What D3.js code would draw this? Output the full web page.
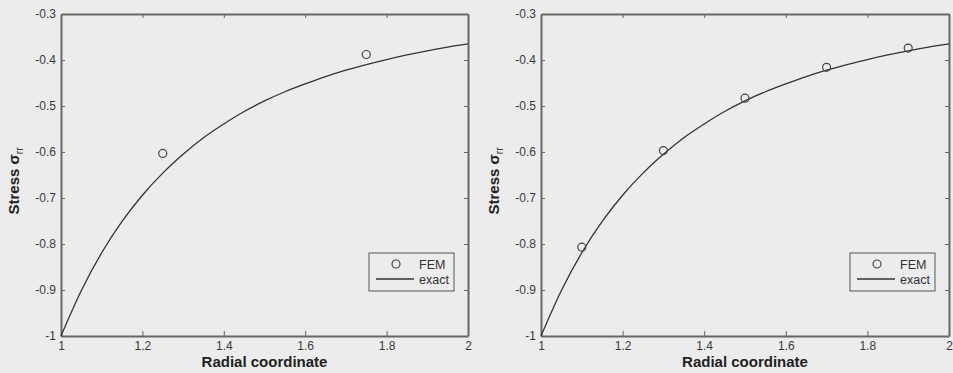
<!DOCTYPE html>
<html lang="en">
<head>
  <meta charset="UTF-8">
  <title>Radial stress: FEM vs exact</title>
  <script src="https://d3js.org/d3.v7.min.js"></script>
  <style>
    body {
      margin: 0;
      background: #ececec;
      font-family: "Liberation Sans", Arial, sans-serif;
    }

    svg {
      display: block;
    }

    .axis path, .axis line {
      stroke: #666;
    }

    .axis path {
      stroke-width: 2px;
    }

    .axis text {
      font-size: 12px;
      fill: #3a3a3a;
      font-family: "Liberation Sans", Arial, sans-serif;
    }

    .axis-label {
      font-size: 15px;
      font-weight: bold;
      fill: #222;
    }

    .exact {
      fill: none;
      stroke: #333;
      stroke-width: 1.3px;
    }

    .fem {
      fill: none;
      stroke: #444;
      stroke-width: 1.2px;
    }

    .legend-text {
      font-size: 12.5px;
      fill: #333;
    }
  </style>
</head>
<body>
  <svg width="953" height="373"></svg>

  <script>
    // exact solution
    const exactR = [1.00, 1.05, 1.10, 1.15, 1.20, 1.25, 1.30, 1.35, 1.40, 1.45, 1.50,
                    1.55, 1.60, 1.65, 1.70, 1.75, 1.80, 1.85, 1.90, 1.95, 2.00];
    const exactStress = [-1.000, -0.901, -0.819, -0.751, -0.694, -0.646, -0.605, -0.569, -0.539, -0.512, -0.489,
                         -0.469, -0.452, -0.436, -0.422, -0.410, -0.399, -0.389, -0.380, -0.372, -0.365];

    // FEM results, coarse mesh (left) and fine mesh (right)
    const femCoarseR = [1.25, 1.75];
    const femCoarseStress = [-0.603, -0.388];
    const femFineR = [1.1, 1.3, 1.5, 1.7, 1.9];
    const femFineStress = [-0.807, -0.597, -0.483, -0.416, -0.374];

    const xTicks = [1, 1.2, 1.4, 1.6, 1.8, 2];
    const yTicks = [-1, -0.9, -0.8, -0.7, -0.6, -0.5, -0.4, -0.3];

    const svg = d3.select("svg");
    const plotTop = 14, plotBottom = 336;

    function drawPanel(left, right, femR, femStress) {
      const x = d3.scaleLinear().domain([1, 2]).range([left, right]);
      const y = d3.scaleLinear().domain([-1, -0.3]).range([plotBottom, plotTop]);
      const g = svg.append("g");

      // mirrored ticks on top / right (box on)
      g.append("g").attr("class", "axis")
        .attr("transform", `translate(0,${plotTop})`)
        .call(d3.axisTop(x).tickValues(xTicks).tickSizeInner(-4).tickSizeOuter(0).tickFormat(""));
      g.append("g").attr("class", "axis")
        .attr("transform", `translate(${right},0)`)
        .call(d3.axisRight(y).tickValues(yTicks).tickSizeInner(-4).tickSizeOuter(0).tickFormat(""));

      g.append("g").attr("class", "axis")
        .attr("transform", `translate(0,${plotBottom})`)
        .call(d3.axisBottom(x).tickValues(xTicks).tickSizeInner(-5).tickSizeOuter(0).tickPadding(5)
          .tickFormat(d => String(d)));
      g.append("g").attr("class", "axis")
        .attr("transform", `translate(${left},0)`)
        .call(d3.axisLeft(y).tickValues(yTicks).tickSizeInner(-4).tickSizeOuter(0).tickPadding(5)
          .tickFormat(d => String(d)));

      const exact = exactR.map((r, i) => [r, exactStress[i]]);
      const line = d3.line().x(d => x(d[0])).y(d => y(d[1])).curve(d3.curveMonotoneX);
      g.append("path").datum(exact).attr("class", "exact").attr("d", line);

      g.selectAll("circle.fem")
        .data(femR.map((r, i) => [r, femStress[i]]))
        .enter().append("circle")
        .attr("class", "fem")
        .attr("cx", d => x(d[0]))
        .attr("cy", d => y(d[1]))
        .attr("r", 4);

      // axis labels
      g.append("text").attr("class", "axis-label")
        .attr("x", (left + right) / 2)
        .attr("y", 367)
        .attr("text-anchor", "middle")
        .text("Radial coordinate");

      const yl = g.append("text").attr("class", "axis-label")
        .attr("transform", `translate(${left - 42},${(plotTop + plotBottom) / 2 + 6}) rotate(-90)`)
        .attr("text-anchor", "middle");
      yl.append("tspan").text("Stress ");
      yl.append("tspan").style("font-size", "15px").text("σ");
      yl.append("tspan").style("font-weight", "normal").style("font-size", "10px").attr("dy", 4).text("rr");

      // legend
      const lx = right - 99, ly = 253;
      const lg = g.append("g").attr("transform", `translate(${lx},${ly})`);
      lg.append("rect").attr("width", 85).attr("height", 38)
        .attr("fill", "#ececec").attr("stroke", "#555").attr("stroke-width", 1);
      lg.append("circle").attr("class", "fem").attr("cx", 27).attr("cy", 11).attr("r", 4);
      lg.append("text").attr("class", "legend-text").attr("x", 50).attr("y", 15.5).text("FEM");
      lg.append("line").attr("x1", 7).attr("x2", 45).attr("y1", 26).attr("y2", 26)
        .attr("stroke", "#333").attr("stroke-width", 1.3);
      lg.append("text").attr("class", "legend-text").attr("x", 50).attr("y", 31).text("exact");
    }

    drawPanel(61, 468, femCoarseR, femCoarseStress);
    drawPanel(541, 949, femFineR, femFineStress);
  </script>
</body>
</html>
